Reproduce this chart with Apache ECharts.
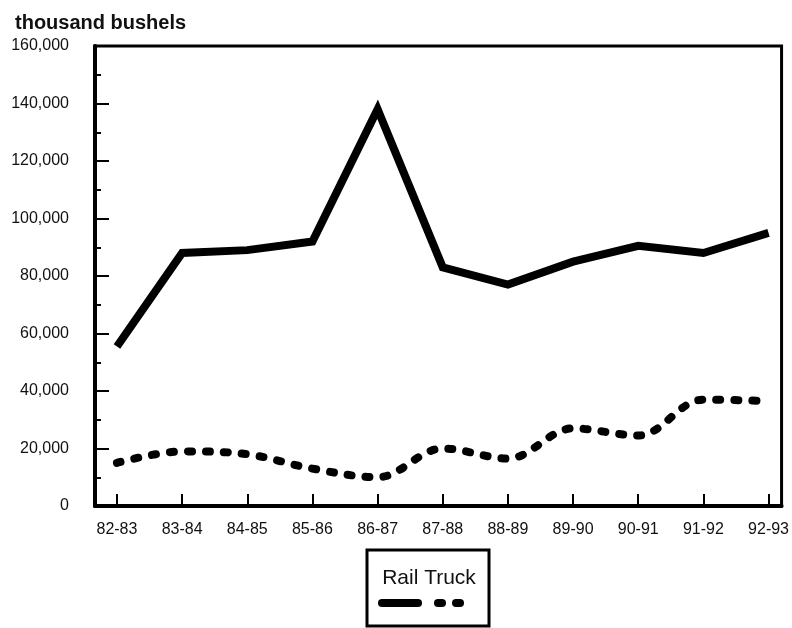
<!DOCTYPE html>
<html>
<head>
<meta charset="utf-8">
<script src="https://cdn.jsdelivr.net/npm/echarts@6/dist/echarts.min.js"></script>
<style>html,body{margin:0;padding:0;background:#fff;}#c{width:792px;height:628px;}</style>
</head>
<body>
<div id="c"></div>
<script>
const categories = ['82-83','83-84','84-85','85-86','86-87','87-88','88-89','89-90','90-91','91-92','92-93'];
const rail  = [55500, 88000, 89000, 92000, 138000, 83000, 77000, 85000, 90500, 88000, 95000];
const truck = [15000, 19000, 18000, 13000, 10000, 20000, 16500, 27000, 24500, 37000, 36500];
const yTicks = [0, 20000, 40000, 60000, 80000, 100000, 120000, 140000, 160000];
const yAxisTitle = 'thousand bushels';
const legendText = 'Rail Truck';

const idx = categories.map((c, i) => i);
const font = "'Liberation Sans', Arial, Helvetica, sans-serif";
const chart = echarts.init(document.getElementById('c'), null, {renderer: 'canvas'});
chart.setOption({
  animation: false,
  backgroundColor: '#fff',
  title: {
    text: yAxisTitle, left: 10, top: 8,
    textStyle: {fontFamily: font, fontWeight: 'bold', fontSize: 20, color: '#111'}
  },
  grid: {left: 95, top: 46, right: 9, bottom: 122, show: true, borderColor: '#000', borderWidth: 3, backgroundColor: 'transparent'},
  xAxis: {
    type: 'value', min: -0.337, max: 10.2,
    axisLine: {show: true, onZero: false, lineStyle: {color: '#000', width: 4}},
    axisTick: {show: true, inside: true, length: 12, customValues: idx, lineStyle: {color: '#000', width: 2}},
    axisLabel: {customValues: idx, formatter: v => categories[Math.round(v)], fontFamily: font, fontSize: 16, color: '#111', margin: 16},
    splitLine: {show: false}
  },
  yAxis: {
    type: 'value', min: yTicks[0], max: yTicks[yTicks.length - 1], interval: 20000,
    axisLine: {show: true, onZero: false, lineStyle: {color: '#000', width: 4}},
    axisTick: {show: true, inside: true, length: 14, lineStyle: {color: '#000', width: 2}},
    minorTick: {show: true, splitNumber: 2, length: 6, lineStyle: {color: '#000', width: 2}},
    axisLabel: {formatter: v => v.toLocaleString('en-US'), fontFamily: font, fontSize: 16, color: '#111', margin: 26},
    splitLine: {show: false}
  },
  series: [
    {
      name: 'Rail', type: 'line', data: idx.map(i => [i, rail[i]]),
      symbol: 'none', lineStyle: {color: '#000', width: 8, join: 'miter', cap: 'butt'}
    },
    {
      name: 'Truck', type: 'line', data: idx.map(i => [i, truck[i]]),
      symbol: 'none', smooth: 0.35,
      lineStyle: {color: '#000', width: 8, type: [4, 14], cap: 'round'}
    }
  ],
  graphic: [
    {type: 'rect', shape: {x: 367, y: 550, width: 122, height: 76}, style: {fill: '#fff', stroke: '#000', lineWidth: 3}},
    {type: 'text', style: {text: legendText, x: 429, y: 578, align: 'center', verticalAlign: 'middle', font: "21px 'Liberation Sans', Arial, sans-serif", fill: '#111'}},
    {type: 'line', shape: {x1: 382, y1: 603, x2: 418, y2: 603}, style: {stroke: '#000', lineWidth: 8, lineCap: 'round'}},
    {type: 'line', shape: {x1: 438, y1: 603, x2: 442, y2: 603}, style: {stroke: '#000', lineWidth: 8, lineCap: 'round'}},
    {type: 'line', shape: {x1: 456, y1: 603, x2: 460, y2: 603}, style: {stroke: '#000', lineWidth: 8, lineCap: 'round'}}
  ]
});
</script>
</body>
</html>
